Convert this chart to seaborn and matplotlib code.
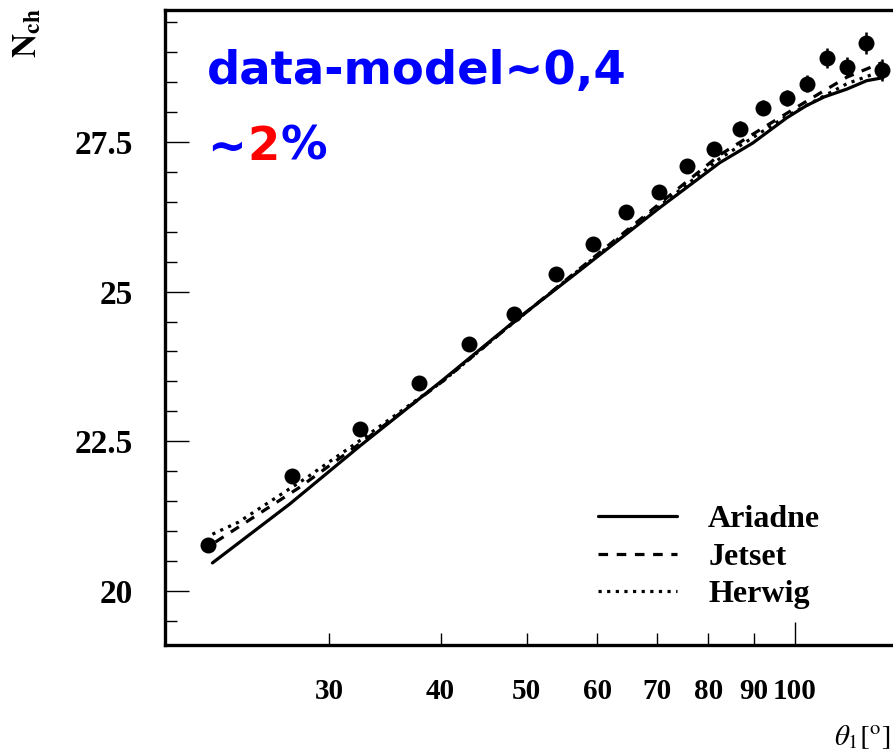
import numpy as np
import pandas as pd
import matplotlib
matplotlib.use("Agg")
import matplotlib.pyplot as plt
import seaborn as sns

# ---- data ----
theta_data = [21.9, 27.2, 32.5, 37.8, 43.1, 48.4, 53.9, 59.3, 64.7, 70.4,
              75.6, 81.1, 86.8, 92.1, 98.0, 103.2, 108.7, 114.5, 120.2, 125.3]
nch_data = [20.77, 21.92, 22.70, 23.47, 24.12, 24.63, 25.30, 25.80, 26.32, 26.67,
            27.10, 27.38, 27.72, 28.07, 28.23, 28.47, 28.90, 28.75, 29.15, 28.70]
nch_err = [0.08, 0.08, 0.08, 0.08, 0.08, 0.08, 0.08, 0.08, 0.09, 0.10,
           0.10, 0.11, 0.12, 0.13, 0.13, 0.14, 0.16, 0.16, 0.18, 0.18]

ariadne_x = [22.16, 27.05, 32.51, 40.20, 48.19, 57.33, 70.53, 82.37, 89.74, 97.99, 103.0, 108.0, 114.5, 120.5, 125.7]
ariadne_y = [20.47, 21.45, 22.43, 23.52, 24.48, 25.35, 26.40, 27.15, 27.48, 27.90, 28.10, 28.25, 28.38, 28.52, 28.57]

jetset_x = [22.34, 27.69, 32.51, 40.20, 48.19, 57.33, 70.53, 82.37, 92.09, 103.2, 114.5, 125.3]
jetset_y = [20.82, 21.72, 22.47, 23.50, 24.47, 25.38, 26.47, 27.28, 27.73, 28.18, 28.58, 28.82]

herwig_x = [22.16, 23.70, 28.19, 32.51, 40.20, 48.19, 57.33, 70.53, 82.37, 97.99, 114.5, 125.3]
herwig_y = [20.95, 21.15, 21.88, 22.52, 23.50, 24.47, 25.37, 26.43, 27.22, 27.93, 28.47, 28.68]

model_names = ["Ariadne", "Jetset", "Herwig"]
x_ticks = [30, 40, 50, 60, 70, 80, 90, 100]
x_ticklabels = ["30", "40", "50", "60", "70", "80", "90", "100"]
y_ticks = [20, 22.5, 25, 27.5]
y_ticklabels = ["20", "22.5", "25", "27.5"]

sns.set_style("ticks")
plt.rcParams["font.family"] = ["Liberation Serif", "DejaVu Serif"]
plt.rcParams["mathtext.fontset"] = "stix"
for k in ["text.color", "axes.labelcolor", "xtick.color", "ytick.color", "axes.edgecolor"]:
    plt.rcParams[k] = "black"

W, H = 893, 754
fig = plt.figure(figsize=(W / 100, H / 100), dpi=100)
ax = fig.add_axes([165 / W, 1 - 645 / H, (896 - 165) / W, (645 - 10) / H])
ax.set_xscale("log")

lw = 2.3
sns.lineplot(x=ariadne_x, y=ariadne_y, ax=ax, color="black", linewidth=lw, sort=False)
ln_a = ax.lines[-1]
sns.lineplot(x=jetset_x, y=jetset_y, ax=ax, color="black", linewidth=lw, sort=False)
ln_j = ax.lines[-1]
ln_j.set_dashes((3.0, 2.7))
sns.lineplot(x=herwig_x, y=herwig_y, ax=ax, color="black", linewidth=lw, sort=False)
ln_h = ax.lines[-1]
ln_h.set_dashes((1.0, 1.7))

ax.errorbar(theta_data, nch_data, yerr=nch_err, fmt="none", ecolor="black",
            elinewidth=1.8, capsize=0, zorder=4)
sns.scatterplot(x=theta_data, y=nch_data, ax=ax, s=11.5 ** 2, color="black",
                edgecolor="black", linewidth=0, zorder=5)

ax.set_xlim(19.6, 130.0)
ax.set_ylim(19.1, 29.7)

for s in ["left", "bottom", "top", "right"]:
    ax.spines[s].set_linewidth(2.4)
    ax.spines[s].set_color("black")

# x ticks
ax.xaxis.set_major_locator(matplotlib.ticker.FixedLocator([100]))
ax.xaxis.set_minor_locator(matplotlib.ticker.FixedLocator(x_ticks[:-1]))
ax.xaxis.set_major_formatter(matplotlib.ticker.FixedFormatter(x_ticklabels[-1:]))
ax.xaxis.set_minor_formatter(matplotlib.ticker.FixedFormatter(x_ticklabels[:-1]))
ax.tick_params(axis="x", which="major", direction="in", length=16.5, width=1.0,
               pad=24, labelsize=21, top=False, colors="black")
ax.tick_params(axis="x", which="minor", direction="in", length=8.6, width=1.0,
               pad=24, labelsize=21, top=False, colors="black")

# y ticks
ax.set_yticks(y_ticks)
ax.set_yticklabels(y_ticklabels)
ax.yaxis.set_minor_locator(matplotlib.ticker.MultipleLocator(0.5))
ax.tick_params(axis="y", which="major", direction="in", length=17, width=1.0,
               pad=23, labelsize=24, right=False, colors="black")
ax.tick_params(axis="y", which="minor", direction="in", length=8.6, width=1.0,
               right=False, colors="black")
for lab in ax.get_xticklabels(which="both") + ax.get_yticklabels():
    lab.set_fontweight("bold")
    lab.set_color("black")

ax.set_xlabel("")
ax.set_ylabel("")

fig.text(27 / W, 1 - 8 / H, r"$\mathbf{N_{ch}}$", rotation=90, ha="center", va="top",
         fontsize=24, color="black")
fig.text(834 / W, 1 - 745 / H, r"$\theta_1[^{\rm o}]$", ha="left", va="baseline",
         fontsize=21, color="black")

leg = ax.legend([ln_a, ln_j, ln_h], model_names, loc="center left",
                bbox_to_anchor=(598 / W, 1 - 557 / H), bbox_transform=fig.transFigure,
                frameon=False, borderpad=0, borderaxespad=0,
                handlelength=2.48, handletextpad=0.97, labelspacing=0.25,
                prop={"weight": "bold", "size": 23})
for t in leg.get_texts():
    t.set_color("black")

afont = dict(family=["DejaVu Sans"], weight="bold", size=33.5)
fig.text(207 / W, 1 - 84 / H, "data-model~0,4", color="#0000ff", va="baseline", **afont)
renderer = fig.canvas.get_renderer()
x0 = 207
for part, col in [("~", "#0000ff"), ("2", "#ff0000"), ("%", "#0000ff")]:
    t = fig.text(x0 / W, 1 - 160 / H, part, color=col, va="baseline", **afont)
    bb = t.get_window_extent(renderer=renderer)
    x0 = bb.x1 + 1

fig.savefig("out.png", dpi=100)
